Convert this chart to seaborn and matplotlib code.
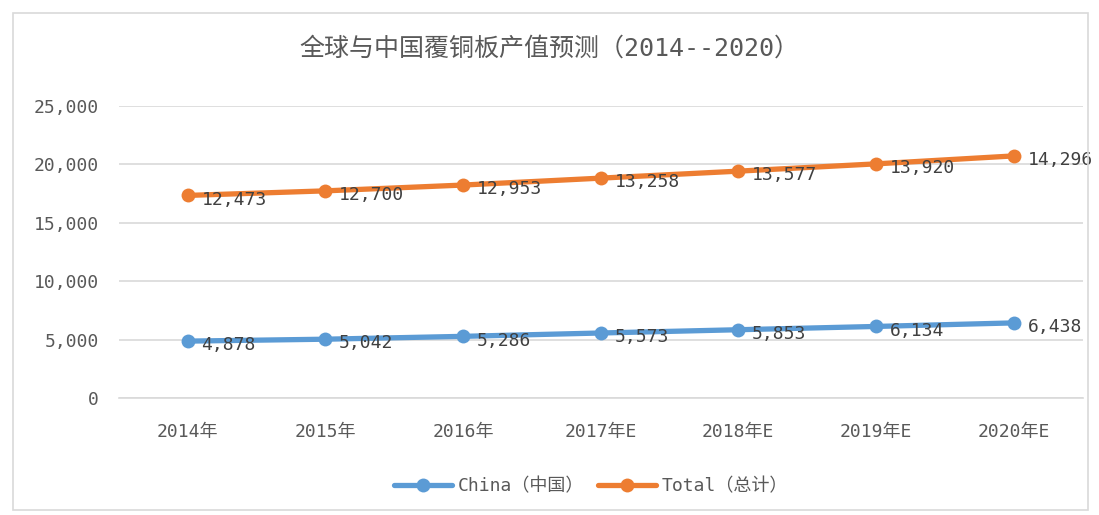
import matplotlib
matplotlib.use("Agg")
import matplotlib.pyplot as plt
import seaborn as sns
import pandas as pd
from matplotlib.patches import Rectangle
from matplotlib.ticker import FuncFormatter

years = ["2014年", "2015年", "2016年", "2017年E", "2018年E", "2019年E", "2020年E"]
china = [4878, 5042, 5286, 5573, 5853, 6134, 6438]
total = [12473, 12700, 12953, 13258, 13577, 13920, 14296]

china_color = "#5B9BD5"
total_color = "#ED7D31"

sns.set_style("white")
# half-width mono digits like the original, CJK falls back to Noto
plt.rcParams["font.family"] = ["DejaVu Sans Mono", "Noto Sans CJK SC"]

# stacked line chart: Total is drawn on top of China
df = pd.DataFrame({"year": years, "china": china, "total": total})
df["x"] = range(len(df))
df["stacked"] = df["china"] + df["total"]

fig = plt.figure(figsize=(10.99, 5.15), dpi=100)
ax = fig.add_axes([0.108, 0.227, 0.877, 0.567])

sns.lineplot(data=df, x="x", y="china", ax=ax, color=china_color, lw=3.8,
             marker="o", markersize=10, markeredgewidth=0, label="China（中国）")
sns.lineplot(data=df, x="x", y="stacked", ax=ax, color=total_color, lw=3.8,
             marker="o", markersize=10, markeredgewidth=0, label="Total（总计）")

for i, row in df.iterrows():
    ax.annotate(f"{row['china']:,}", (row["x"], row["china"]), xytext=(10, -3),
                textcoords="offset points", ha="left", va="center",
                fontsize=13, color="#404040")
    ax.annotate(f"{row['total']:,}", (row["x"], row["stacked"]), xytext=(10, -3),
                textcoords="offset points", ha="left", va="center",
                fontsize=13, color="#404040")

ax.set_xlim(-0.5, len(years) - 0.5)
ax.set_ylim(0, 25000)
ax.set_yticks(range(0, 25001, 5000))
ax.yaxis.set_major_formatter(FuncFormatter(lambda v, p: f"{int(v):,}"))
ax.set_xticks(df["x"])
ax.set_xticklabels(years)
ax.tick_params(axis="both", length=0, labelsize=13, labelcolor="#595959")
ax.tick_params(axis="x", pad=18)
ax.tick_params(axis="y", pad=14)
ax.set_xlabel("")
ax.set_ylabel("")
ax.grid(axis="y", color="#d9d9d9", lw=1.2)
for side in ["top", "right", "left"]:
    ax.spines[side].set_visible(False)
ax.spines["bottom"].set_color("#d9d9d9")
ax.spines["bottom"].set_linewidth(1.2)

ax.legend(loc="upper center", bbox_to_anchor=(0.49, -0.215), ncol=2, frameon=False,
          fontsize=13, handlelength=3.2, columnspacing=0.8, handletextpad=0.3,
          labelcolor="#595959")

fig.text(0.5, 0.905, "全球与中国覆铜板产值预测（2014--2020）", ha="center", va="center",
         fontsize=18, color="#595959")

fig.patches.append(Rectangle((0.012, 0.01), 0.978, 0.965, transform=fig.transFigure,
                             fill=False, edgecolor="#d9d9d9", lw=1.2))

fig.savefig("out.png", dpi=100)
